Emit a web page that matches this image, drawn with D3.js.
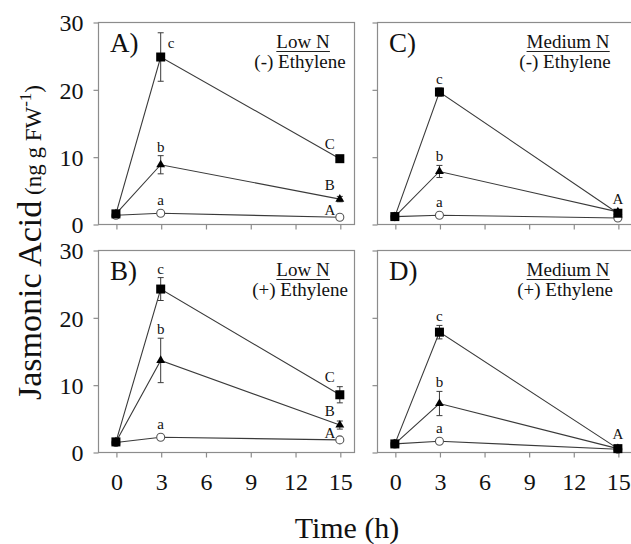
<!DOCTYPE html>
<html>
<head>
<meta charset="utf-8">
<script src="https://cdn.jsdelivr.net/npm/d3@7"></script>
<style>
  body { margin: 0; background: #fff; }
  svg text { font-family: "Liberation Serif", "DejaVu Serif", "Times New Roman", serif; fill: #111; }
</style>
</head>
<body>
<svg id="chart" width="631" height="544"></svg>
<script>
// Sampling times (h) and axis ticks
const times = [0, 3, 15];
const xTicks = [0, 3, 6, 9, 12, 15];
const yTicks = [0, 10, 20, 30];

// A) Low N, (-) ethylene
const squareA = [1.5, 24.8, 9.7];
const squareAErr = [0.2, 3.6, 0.4];
const triangleA = [1.5, 8.8, 3.7];
const triangleAErr = [0.2, 1.35, 0.4];
const circleA = [1.3, 1.6, 1.0];
const circleAErr = [0.1, 0.2, 0.1];

// B) Low N, (+) ethylene
const squareB = [1.5, 24.2, 8.5];
const squareBErr = [0.2, 1.7, 1.2];
const triangleB = [1.5, 13.6, 4.0];
const triangleBErr = [0.2, 3.3, 0.6];
const circleB = [1.4, 2.2, 1.8];
const circleBErr = [0.1, 0.3, 0.2];

// C) Medium N, (-) ethylene
const squareC = [1.1, 19.6, 1.6];
const squareCErr = [0.1, 0.6, 0.5];
const triangleC = [1.1, 7.8, 1.8];
const triangleCErr = [0.1, 0.9, 0.3];
const circleC = [1.1, 1.3, 0.9];
const circleCErr = [0.1, 0.1, 0.1];

// D) Medium N, (+) ethylene
const squareD = [1.2, 17.8, 0.5];
const squareDErr = [0.1, 1.0, 0.2];
const triangleD = [1.2, 7.2, 0.5];
const triangleDErr = [0.1, 1.8, 0.1];
const circleD = [1.2, 1.6, 0.4];
const circleDErr = [0.1, 0.2, 0.1];

// Significance letters: at 3 h for circle / triangle / square, at 15 h likewise
const letters3h = ["a", "b", "c"];
const lettersLowN15h = ["A", "B", "C"];
const lettersMedN15h = [null, null, "A"];

const panelIds = ["A)", "B)", "C)", "D)"];
const nitrogenLabels = ["Low N", "Low N", "Medium N", "Medium N"];
const ethyleneLabels = ["(-) Ethylene", "(+) Ethylene", "(-) Ethylene", "(+) Ethylene"];

const panels = [
  { id: panelIds[0], n: nitrogenLabels[0], eth: ethyleneLabels[0], col: 0, row: 0,
    series: [[circleA, circleAErr], [triangleA, triangleAErr], [squareA, squareAErr]],
    l15: lettersLowN15h },
  { id: panelIds[1], n: nitrogenLabels[1], eth: ethyleneLabels[1], col: 0, row: 1,
    series: [[circleB, circleBErr], [triangleB, triangleBErr], [squareB, squareBErr]],
    l15: lettersLowN15h },
  { id: panelIds[2], n: nitrogenLabels[2], eth: ethyleneLabels[2], col: 1, row: 0,
    series: [[circleC, circleCErr], [triangleC, triangleCErr], [squareC, squareCErr]],
    l15: lettersMedN15h },
  { id: panelIds[3], n: nitrogenLabels[3], eth: ethyleneLabels[3], col: 1, row: 1,
    series: [[circleD, circleDErr], [triangleD, triangleDErr], [squareD, squareDErr]],
    l15: lettersMedN15h }
];

// Layout
const colX = [[98, 354], [377, 632]];
const rowY = [[22, 224], [250, 452]];
const noteCenter = [303, 568];
const frameColor = "#8c8c8c";
const lineColor = "#3a3a3a";
const serif = '"Liberation Serif", "DejaVu Serif", "Times New Roman", serif';

const svg = d3.select("#chart");

panels.forEach(p => {
  const x = d3.scaleLinear().domain([-1.2, 15.95]).range(colX[p.col]);
  const y = d3.scaleLinear().domain([0, 30]).range([rowY[p.row][1], rowY[p.row][0]]);
  const g = svg.append("g");
  const [x0, x1] = colX[p.col];
  const [y0, y1] = rowY[p.row];

  // frame
  g.append("rect").attr("x", x0 + 0.5).attr("y", y0 + 0.5)
    .attr("width", x1 - x0).attr("height", y1 - y0)
    .attr("fill", "none").attr("stroke", frameColor).attr("stroke-width", 1.2);

  // axes
  const xAxis = d3.axisBottom(x).tickValues(xTicks).tickSize(5).tickSizeOuter(0)
    .tickFormat(p.row === 1 ? d3.format("d") : () => "");
  const gx = g.append("g").attr("transform", `translate(0.5,${y1 + 0.5})`).call(xAxis)
    .attr("font-family", serif);
  gx.select(".domain").remove();
  gx.selectAll(".tick line").attr("stroke", frameColor).attr("stroke-width", 1.2);
  gx.selectAll(".tick text").attr("font-size", 24).attr("dy", 0).attr("y", 37)
    .attr("fill", "#111");

  const yAxis = d3.axisLeft(y).tickValues(yTicks).tickSize(5).tickSizeOuter(0)
    .tickFormat(p.col === 0 ? d3.format("d") : () => "");
  const gy = g.append("g").attr("transform", `translate(${x0 + 0.5},0.5)`).call(yAxis)
    .attr("font-family", serif);
  gy.select(".domain").remove();
  gy.selectAll(".tick line").attr("stroke", frameColor).attr("stroke-width", 1.2);
  gy.selectAll(".tick text").attr("font-size", 24).attr("x", -15).attr("dy", "0.35em")
    .attr("fill", "#111");

  // panel letter and treatment notes
  g.append("text").attr("x", x0 + 12).attr("y", y0 + 30).attr("font-size", 27).text(p.id);
  const nt = g.append("text").attr("x", noteCenter[p.col]).attr("y", y0 + 26)
    .attr("text-anchor", "middle").attr("font-size", 19).text(p.n);
  const bb = nt.node().getBBox();
  g.append("line").attr("x1", bb.x).attr("x2", bb.x + bb.width)
    .attr("y1", y0 + 29.5).attr("y2", y0 + 29.5).attr("stroke", "#222").attr("stroke-width", 1);
  g.append("text").attr("x", noteCenter[p.col] - 3).attr("y", y0 + 46)
    .attr("text-anchor", "middle").attr("font-size", 19).text(p.eth);

  // connecting lines
  const line = d3.line().x((d, i) => x(times[i])).y(d => y(d));
  p.series.forEach(([vals]) => {
    g.append("path").attr("d", line(vals)).attr("fill", "none")
      .attr("stroke", lineColor).attr("stroke-width", 1.1);
  });

  // error bars
  p.series.forEach(([vals, errs]) => {
    vals.forEach((v, i) => {
      const cx = x(times[i]);
      const top = y(v + errs[i]), bot = y(Math.max(0, v - errs[i]));
      g.append("line").attr("x1", cx).attr("x2", cx).attr("y1", top).attr("y2", bot)
        .attr("stroke", lineColor).attr("stroke-width", 1);
      [top, bot].forEach(yy => g.append("line").attr("x1", cx - 3).attr("x2", cx + 3)
        .attr("y1", yy).attr("y2", yy).attr("stroke", lineColor).attr("stroke-width", 1));
    });
  });

  // markers: open circles, filled triangles, filled squares (drawn on top)
  const [circ, tri, sq] = p.series;
  circ[0].forEach((v, i) => g.append("circle").attr("cx", x(times[i])).attr("cy", y(v))
    .attr("r", 4).attr("fill", "#fff").attr("stroke", "#555").attr("stroke-width", 1.1));
  const triSym = d3.symbol().type(d3.symbolTriangle).size(34);
  tri[0].forEach((v, i) => g.append("path").attr("d", triSym())
    .attr("transform", `translate(${x(times[i])},${y(v)})`).attr("fill", "#000"));
  sq[0].forEach((v, i) => g.append("rect").attr("x", x(times[i]) - 4.5).attr("y", y(v) - 4.5)
    .attr("width", 9).attr("height", 9).attr("fill", "#000"));

  // significance letters at 3 h
  p.series.forEach(([vals, errs], k) => {
    const v = vals[1], e = errs[1];
    const cx = x(3);
    const topY = Math.min(y(v + e), y(v) - 4.5);
    const t = g.append("text").attr("font-size", 15).text(letters3h[k]);
    if (p.id === "A)" && k === 2) {
      t.attr("x", cx + 7).attr("y", y(v) - 9);
    } else {
      t.attr("x", cx).attr("y", topY - 4).attr("text-anchor", "middle");
    }
  });

  // significance letters at 15 h
  p.series.forEach(([vals, errs], k) => {
    const lab = p.l15[k];
    if (!lab) return;
    const v = vals[2], e = errs[2];
    const cx = x(15);
    const topY = Math.min(y(v + e), y(v) - 4.5);
    const t = g.append("text").attr("font-size", 15).attr("text-anchor", "middle").text(lab);
    if (p.col === 0) {
      // beside the marker, up and to the left
      t.attr("x", cx - 10).attr("y", k === 0 ? y(v) - 2 : topY - 5);
    } else {
      t.attr("x", cx).attr("y", topY - 5);
    }
  });
});

// y-axis title
const yt = svg.append("text").attr("transform", "translate(41,400) rotate(-90)")
  .attr("text-anchor", "start");
yt.append("tspan").attr("font-size", 34).text("Jasmonic Acid");
yt.append("tspan").attr("font-size", 23).text(" (ng g FW");
yt.append("tspan").attr("font-size", 17).attr("dy", -10).text("-1");
yt.append("tspan").attr("font-size", 23).attr("dy", 10).text(")");

// x-axis title
svg.append("text").attr("x", 347).attr("y", 538).attr("text-anchor", "middle")
  .attr("font-size", 30).text("Time (h)");
</script>
</body>
</html>
